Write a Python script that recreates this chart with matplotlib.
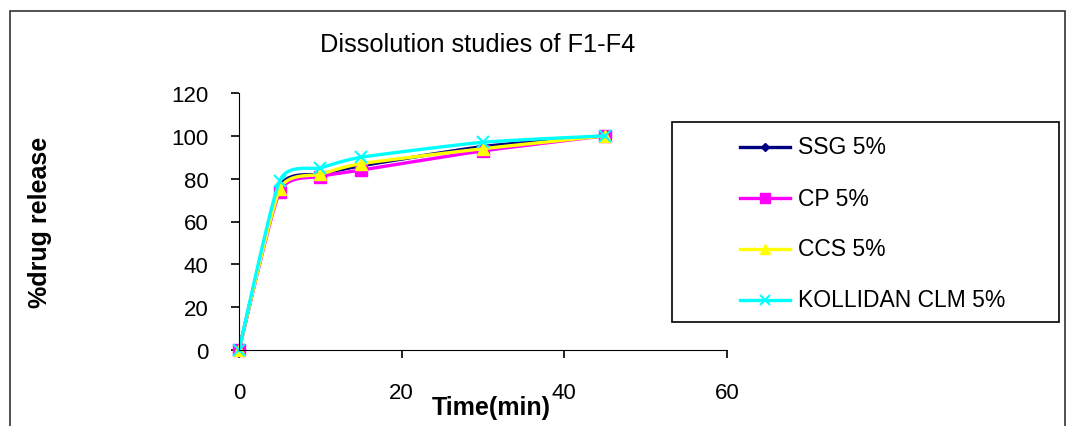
import numpy as np
import matplotlib
matplotlib.use("Agg")
import matplotlib.pyplot as plt
from matplotlib.lines import Line2D

# time points (min)
time = [0, 5, 10, 15, 30, 45]

# % drug release for each formulation
ssg = [0, 76, 82, 86, 95, 100]
cp = [0, 74, 81, 84, 93, 100]
ccs = [0, 75, 82, 87, 94, 100]
kollidan = [0, 79, 85, 90, 97, 100]

labels = ["SSG 5%", "CP 5%", "CCS 5%", "KOLLIDAN CLM 5%"]
colors = ["#000080", "#FF00FF", "#FFFF00", "#00FFFF"]
markers = ["D", "s", "^", "x"]
msizes = [5, 8, 8, 8]

W, H = 1068, 427


def smooth(xs, ys, n=30, k=10.0):
    """Bezier smoothing like spreadsheet 'smoothed lines'."""
    x = np.asarray(xs, float)
    y = np.asarray(ys, float)
    px = np.concatenate([[x[0]], x, [x[-1]]])
    py = np.concatenate([[y[0]], y, [y[-1]]])
    outx, outy = [], []
    for i in range(1, len(px) - 2):
        p0 = np.array([px[i - 1], py[i - 1]])
        p1 = np.array([px[i], py[i]])
        p2 = np.array([px[i + 1], py[i + 1]])
        p3 = np.array([px[i + 2], py[i + 2]])
        c1 = p1 + (p2 - p0) / k
        c2 = p2 - (p3 - p1) / k
        t = np.linspace(0, 1, n)[:, None]
        pts = ((1 - t) ** 3) * p1 + 3 * ((1 - t) ** 2) * t * c1 \
            + 3 * (1 - t) * t ** 2 * c2 + t ** 3 * p2
        outx.extend(pts[:, 0])
        outy.extend(pts[:, 1])
    return outx, outy


plt.rcParams["font.family"] = ["Liberation Sans", "DejaVu Sans"]

fig = plt.figure(figsize=(W / 100, H / 100), dpi=100)
ax = fig.add_axes([239 / W, 1 - 351 / H, (727 - 239) / W, (351 - 94) / H])

# figure frame
fig.patches.append(plt.Rectangle((10 / W, -0.05), (1065 - 10) / W, 1.05 - 12 / H,
                                 transform=fig.transFigure, fill=False,
                                 edgecolor="#333333", linewidth=1.2))

series = [ssg, cp, ccs, kollidan]
for vals, lab, col, mk, ms in zip(series, labels, colors, markers, msizes):
    sx, sy = smooth(time, vals)
    ax.plot(sx, sy, color=col, linewidth=2.4)
    ax.plot(time, vals, linestyle="none", marker=mk, color=col, markersize=ms,
            markeredgewidth=1.5 if mk == "x" else 1, clip_on=False)

ax.set_xlim(0, 60)
ax.set_ylim(0, 120)
ax.set_xticks([0, 20, 40, 60])
ax.set_yticks(range(0, 121, 20))
ax.spines["top"].set_visible(False)
ax.spines["right"].set_visible(False)
ax.tick_params(axis="both", direction="out", length=6, width=1.2, labelsize=16)
ax.tick_params(axis="x", pad=17)
ax.tick_params(axis="y", pad=16)

fig.text(478 / W, 1 - 45 / H, "Dissolution studies of F1-F4", fontsize=18.3,
         ha="center", va="center")
fig.text(491 / W, 1 - 408 / H, "Time(min)", fontsize=18, fontweight="bold",
         ha="center", va="center")
fig.text(40 / W, 1 - 222 / H, "%drug release", fontsize=18, fontweight="bold",
         rotation=90, ha="center", va="center")

# legend box drawn by hand to match the original layout
fig.patches.append(plt.Rectangle((672 / W, 1 - 323 / H), (1059 - 672) / W, 200 / H,
                                 transform=fig.transFigure, fill=False,
                                 edgecolor="black", linewidth=1.2))
for i, (lab, col, mk, ms) in enumerate(zip(labels, colors, markers, msizes)):
    yy = 1 - (148 + 51 * i) / H
    fig.add_artist(Line2D([740 / W, 790 / W], [yy, yy], color=col, linewidth=2.4,
                          transform=fig.transFigure))
    fig.add_artist(Line2D([765 / W], [yy], color=col, marker=mk, markersize=ms - 1,
                          markeredgewidth=1.5 if mk == "x" else 1,
                          transform=fig.transFigure))
    fig.text(798 / W, yy, lab, fontsize=16.5, ha="left", va="center")

fig.savefig("out.png", dpi=100)
